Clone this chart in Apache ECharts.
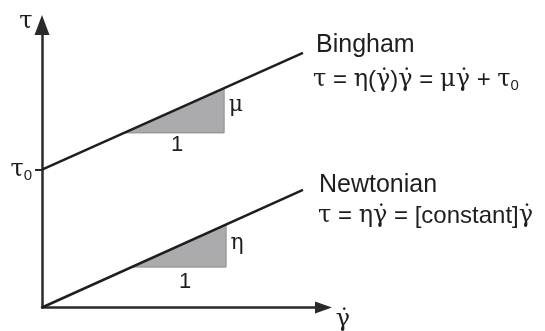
<!DOCTYPE html>
<html>
<head>
<meta charset="utf-8">
<script src="https://cdn.jsdelivr.net/npm/echarts@6/dist/echarts.min.js"></script>
<style>
  html, body { margin: 0; padding: 0; background: #fff; }
  #main { width: 545px; height: 331px; }
</style>
</head>
<body>
<div id="main"></div>
<script>
// shear rate (x) vs shear stress (y), arbitrary units
var tau0 = 4.88;
var lineX = [0, 9.27];
var binghamY = [tau0, 9.01];
var newtonianY = [0, 4.16];
// slope triangles: [x1, y1, x2, y2, x3, y3]
var binghamTriangle = [2.93, 6.18, 6.47, 6.18, 6.47, 7.75];
var newtonianTriangle = [3.18, 1.43, 6.54, 1.43, 6.54, 2.94];

var ink = '#1e1e1e';
var sans = 'Liberation Sans';
var serif = 'DejaVu Serif';

var chart = echarts.init(document.getElementById('main'));

var richText = {
  g: { fontFamily: serif, fontSize: 24, color: ink },
  s: { fontFamily: sans, fontSize: 24, color: ink },
  sub: { fontFamily: sans, fontSize: 15, color: ink, padding: [12, 0, 0, 0] }
};

function txt(x, y, text, size, family, align) {
  return {
    type: 'text', x: x, y: y, z: 10,
    style: {
      text: text, fill: ink, align: align || 'left', verticalAlign: 'middle',
      fontSize: size, fontFamily: family, rich: richText
    }
  };
}

var option = {
  animation: false,
  backgroundColor: '#fff',
  grid: { left: 42, right: 221.5, top: 25, bottom: 23.5 },
  xAxis: {
    type: 'value', min: 0, max: 10,
    axisLine: { show: true, symbol: ['none', 'triangle'], symbolSize: [12, 17],
      lineStyle: { color: '#2a2a2a', width: 2.5 } },
    axisTick: { show: false }, axisLabel: { show: false }, splitLine: { show: false }
  },
  yAxis: {
    type: 'value', min: 0, max: 10,
    axisLine: { show: true, symbol: ['none', 'triangle'], symbolSize: [15, 20],
      lineStyle: { color: '#2a2a2a', width: 2.5 } },
    axisTick: { show: true, customValues: [tau0], length: 7, lineStyle: { color: '#2a2a2a', width: 2 } },
    axisLabel: {
      show: true, customValues: [tau0], margin: 10,
      formatter: function () { return '{g|τ}{sub|0}'; },
      rich: richText
    },
    splitLine: { show: false }
  },
  series: [
    {
      type: 'custom',
      z: 1,
      renderItem: function (params, api) {
        var pts = [];
        for (var i = 0; i < 3; i++) {
          pts.push(api.coord([api.value(i * 2), api.value(i * 2 + 1)]));
        }
        return {
          type: 'polygon',
          shape: { points: pts },
          style: { fill: '#ababae', stroke: '#8c8c8c', lineWidth: 1 }
        };
      },
      encode: { x: [0, 2, 4], y: [1, 3, 5] },
      data: [binghamTriangle, newtonianTriangle]
    },
    {
      name: 'Bingham', type: 'line', z: 3, symbol: 'none',
      lineStyle: { color: ink, width: 2.5 },
      data: lineX.map(function (x, i) { return [x, binghamY[i]]; })
    },
    {
      name: 'Newtonian', type: 'line', z: 3, symbol: 'none',
      lineStyle: { color: ink, width: 2.5 },
      data: lineX.map(function (x, i) { return [x, newtonianY[i]]; })
    }
  ],
  graphic: [
    txt(26, 22, 'τ', 24, serif, 'center'),
    txt(343, 320, 'γ\u0307', 24, serif, 'center'),
    txt(316, 45, 'Bingham', 25, sans),
    txt(313, 80, '{g|τ}{s| = }{g|η}{s|(}{g|γ\u0307}{s|)}{g|γ\u0307}{s| = }{g|μγ\u0307}{s| + }{g|τ}{sub|0}', 24, sans),
    txt(319, 185, 'Newtonian', 25, sans),
    txt(318, 216, '{g|τ}{s| = }{g|ηγ\u0307}{s| = [constant]}{g|γ\u0307}', 24, sans),
    txt(177, 145, '1', 22, sans, 'center'),
    txt(236, 105, 'μ', 22, serif, 'center'),
    txt(185, 282, '1', 22, sans, 'center'),
    txt(237, 243, 'η', 22, serif, 'center')
  ]
};

chart.setOption(option);
</script>
</body>
</html>
